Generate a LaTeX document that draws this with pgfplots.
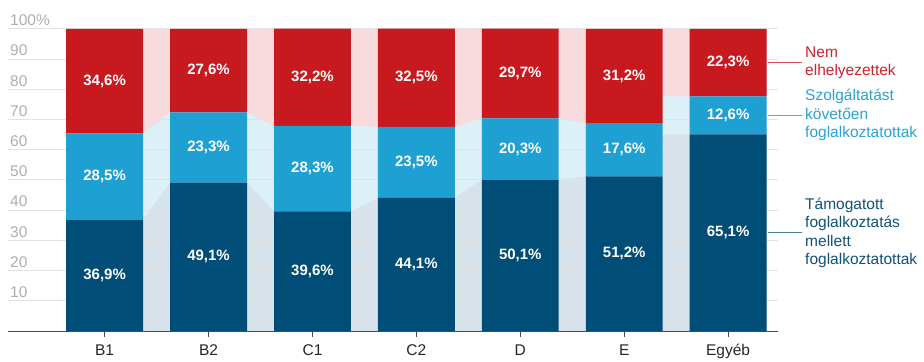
\documentclass[border=0pt]{standalone}
\usepackage{fontspec}
\setmainfont{Liberation Sans}
\usepackage{pgfplots}
\usepackage{pgfplotstable}
\pgfplotsset{compat=1.18}

\definecolor{cRed}{HTML}{C8191E}
\definecolor{cLight}{HTML}{1FA0D2}
\definecolor{cDark}{HTML}{004D78}
\definecolor{bRed}{HTML}{F8DADC}
\definecolor{bLight}{HTML}{DCF0F8}
\definecolor{bDark}{HTML}{D8E2EA}
\definecolor{gridc}{HTML}{E2E2E2}
\definecolor{tickc}{HTML}{AEAEAE}
\definecolor{axisc}{HTML}{4A4A4A}
\definecolor{tRed}{HTML}{CC2229}
\definecolor{tLight}{HTML}{2AA2D2}
\definecolor{tDark}{HTML}{0F5179}

% shares by category (per cent): supported employment, employed after service, not placed
\pgfplotstableread{
cat dark light red
B1 36.9 28.5 34.6
B2 49.1 23.3 27.6
C1 39.6 28.3 32.2
C2 44.1 23.5 32.5
D 50.1 20.3 29.7
E 51.2 17.6 31.2
Egyéb 65.1 12.6 22.3
}\shares

% bar-edge points (left and right edge of every bar) for the connecting bands
\pgfplotstablenew[
  create on use/xe/.style={create col/expr={floor(\pgfplotstablerow/2)+0.74*mod(\pgfplotstablerow,2)-0.37}},
  create on use/lo/.style={create col/assign/.code={%
      \pgfmathtruncatemacro\srcrow{floor(\pgfplotstablerow/2)}%
      \pgfplotstablegetelem{\srcrow}{dark}\of\shares
      \pgfkeyslet{/pgfplots/table/create col/next content}\pgfplotsretval}},
  create on use/mid/.style={create col/assign/.code={%
      \pgfmathtruncatemacro\srcrow{floor(\pgfplotstablerow/2)}%
      \pgfplotstablegetelem{\srcrow}{dark}\of\shares
      \let\va\pgfplotsretval
      \pgfplotstablegetelem{\srcrow}{light}\of\shares
      \pgfmathsetmacro\vb{\va+\pgfplotsretval}%
      \pgfkeyslet{/pgfplots/table/create col/next content}\vb}},
  columns={xe,lo,mid}]{14}\edges

\pgfplotsset{
  base/.style={
    scale only axis, width=770bp, height=302bp,
    at={(8bp,31bp)}, anchor=south west,
    xmin=-0.93, xmax=6.48, ymin=0, ymax=100,
    /pgf/number format/assume math mode=true,
  },
  seglabel/.style={
    draw=none, nodes near coords={\pgfmathprintnumber[fixed,fixed zerofill,precision=1,use comma]{\pgfplotspointmeta}\%},
    every node near coord/.append style={anchor=center, text=white,
      font=\bfseries\fontsize{15bp}{18bp}\selectfont},
  },
}

\begin{document}
\begin{tikzpicture}
\path[use as bounding box] (0,0) rectangle (924bp,362bp);

% background: connecting bands and grid
\begin{axis}[base, axis on top,
  axis line style={draw=none}, major tick length=0pt,
  xtick=\empty,
  ytick={10,20,...,100},
  yticklabels={10,20,30,40,50,60,70,80,90,100\%},
  ymajorgrids, grid style={gridc, line width=1bp},
  yticklabel style={anchor=south west, xshift=2bp, yshift=3bp, inner sep=0pt,
    text=tickc, font=\fontsize{15.5bp}{18bp}\selectfont},
]
\addplot[fill=bRed, draw=none] table[x=xe, y expr=100]{\edges} \closedcycle;
\addplot[fill=bLight, draw=none] table[x=xe, y=mid]{\edges} \closedcycle;
\addplot[fill=bDark, draw=none] table[x=xe, y=lo]{\edges} \closedcycle;
\end{axis}

% stacked bars
\begin{axis}[base, ybar stacked, bar width=0.74,
  axis x line*=bottom, axis y line=none,
  x axis line style={draw=axisc, line width=1bp, -},
  xtick=data, xticklabels from table={\shares}{cat},
  tick align=outside, major tick length=6bp,
  xtick style={draw=axisc, line width=1bp},
  xticklabel style={text=black!85, font=\fontsize{15.5bp}{18bp}\selectfont, yshift=-4bp},
]
\addplot[fill=cDark, draw=none] table[x expr=\coordindex, y=dark]{\shares};
\addplot[fill=cLight, draw=none] table[x expr=\coordindex, y=light]{\shares};
\addplot[fill=cRed, draw=none] table[x expr=\coordindex, y=red]{\shares};
\end{axis}

% value labels and series names
\begin{axis}[base, hide axis, clip=false]
\addplot[seglabel, point meta=\thisrow{dark}]
  table[x expr=\coordindex, y expr=\thisrow{dark}/2]{\shares};
\addplot[seglabel, point meta=\thisrow{light}]
  table[x expr=\coordindex, y expr=\thisrow{dark}+\thisrow{light}/2]{\shares};
\addplot[seglabel, point meta=\thisrow{red}]
  table[x expr=\coordindex, y expr=\thisrow{dark}+\thisrow{light}+\thisrow{red}/2]{\shares};

\draw[tRed!80, line width=1.6bp] (axis cs:6.38,88.85) -- (axis cs:6.71,88.85);
\draw[tLight!85, line width=1.6bp] (axis cs:6.38,71.4) -- (axis cs:6.71,71.4);
\draw[tDark!75, line width=1.6bp] (axis cs:6.38,32.55) -- (axis cs:6.71,32.55);
\begin{scope}[every node/.style={anchor=west, align=left, inner sep=0pt,
    font=\fontsize{15.5bp}{18.5bp}\selectfont}]
\node[text=tRed] at (axis cs:6.74,88.85) {Nem\\elhelyezettek};
\node[text=tLight] at (axis cs:6.74,71.4) {Szolgáltatást\\követően\\foglalkoztatottak};
\node[text=tDark] at (axis cs:6.74,32.55) {Támogatott\\foglalkoztatás\\mellett\\foglalkoztatottak};
\end{scope}
\end{axis}
\end{tikzpicture}
\end{document}
